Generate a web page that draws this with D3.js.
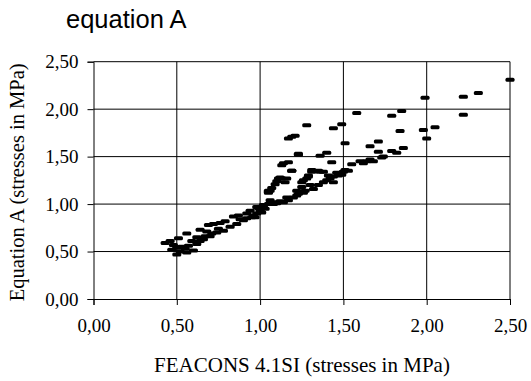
<!DOCTYPE html>
<html>
<head>
<meta charset="utf-8">
<script src="https://cdn.jsdelivr.net/npm/d3@7"></script>
<style>
  html, body { margin: 0; padding: 0; background: #fff; }
  svg { display: block; }
</style>
</head>
<body>
<div id="chart"></div>
<script>
// ---- Data ----
const chartTitle = "equation A";
const xAxisTitle = "FEACONS 4.1SI (stresses in MPa)";
const yAxisTitle = "Equation A (stresses in MPa)";
const xTicks = [0, 0.5, 1.0, 1.5, 2.0, 2.5];
const yTicks = [0, 0.5, 1.0, 1.5, 2.0, 2.5];

// FEACONS 4.1SI stresses (x) and Equation A stresses (y), MPa
const feaconsX = [
  0.43,0.46,0.51,0.56,0.47,0.50,0.50,0.53,0.57,0.59,0.60,0.56,0.48,0.52,0.55,
  0.64,0.69,0.72,0.67,0.71,0.64,0.74,0.78,0.79,0.76,0.62,0.66,0.70,0.62,0.68,0.75,
  0.84,0.87,0.82,0.86,0.90,0.92,0.94,0.95,0.98,1.02,1.05,1.05,0.88,0.92,0.96,1.00,0.99,1.03,0.97,1.01,
  1.12,1.15,1.09,1.06,1.05,1.29,1.25,1.30,1.32,1.23,1.20,1.17,1.14,1.08,1.10,1.11,1.16,1.28,1.19,1.13,1.17,1.23,1.17,1.21,1.28,1.12,1.22,1.27,1.26,
  1.31,1.35,1.38,1.36,1.41,1.44,1.46,1.50,1.44,1.51,1.43,1.36,1.40,1.44,1.49,1.51,1.55,1.58,1.40,1.47,1.53,1.35,1.38,1.42,1.49,
  1.60,1.64,1.68,1.66,1.71,1.71,1.73,1.79,1.82,1.86,1.84,1.79,1.85,1.98,2.05,2.00,1.99,1.74,1.62,1.66,
  2.22,2.31,2.22,2.50,
  1.19,1.23,1.14,1.19,1.10,1.13,1.07,1.05,1.31,1.29,1.26,1.22,1.25,1.16,1.08,1.02,0.98,1.06
];
const equationY = [
  0.59,0.61,0.64,0.69,0.52,0.47,0.54,0.55,0.56,0.61,0.51,0.49,0.57,0.50,0.53,
  0.73,0.78,0.79,0.66,0.69,0.61,0.70,0.72,0.82,0.80,0.58,0.63,0.66,0.65,0.71,0.74,
  0.87,0.88,0.76,0.79,0.83,0.90,0.93,0.86,0.90,0.97,1.00,1.14,0.84,0.85,0.88,0.93,0.96,0.95,0.86,0.91,
  1.28,1.23,1.21,1.14,1.12,1.30,1.23,1.20,1.16,1.11,1.07,1.04,1.02,1.00,1.01,1.27,1.27,1.27,1.35,1.41,1.44,1.52,1.69,1.72,1.83,1.03,1.09,1.14,1.12,
  1.36,1.35,1.34,1.34,1.30,1.23,1.33,1.34,1.29,1.36,1.44,1.51,1.54,1.80,1.84,1.64,1.42,1.96,1.25,1.30,1.35,1.20,1.23,1.27,1.31,
  1.45,1.45,1.45,1.61,1.66,1.55,1.49,1.56,1.54,1.59,1.77,1.93,1.98,1.78,1.81,1.69,2.12,1.50,1.43,1.47,
  2.13,2.17,1.94,2.31,
  1.71,1.53,1.43,1.35,1.24,1.27,1.17,1.13,1.34,1.29,1.25,1.14,1.18,1.07,1.02,0.99,0.97,1.04
];

// ---- Layout ----
const W = 531, H = 381;
const plot = { left: 93.5, right: 510, top: 61.7, bottom: 299 };
const serif = "'Liberation Serif', 'Times New Roman', serif";
const sans = "'Liberation Sans', Arial, sans-serif";
const fmt = v => d3.format(".2f")(v).replace(".", ",");

const svg = d3.select("#chart").append("svg")
  .attr("width", W).attr("height", H);

const x = d3.scaleLinear().domain([0, 2.5]).range([plot.left, plot.right]);
const y = d3.scaleLinear().domain([0, 2.5]).range([plot.bottom, plot.top]);

// gridlines
svg.append("g").selectAll("line.v").data(xTicks.slice(1)).join("line")
  .attr("x1", d => x(d)).attr("x2", d => x(d))
  .attr("y1", plot.top).attr("y2", plot.bottom)
  .attr("stroke", "#000").attr("stroke-width", 1);
svg.append("g").selectAll("line.h").data(yTicks.slice(1)).join("line")
  .attr("x1", plot.left).attr("x2", plot.right)
  .attr("y1", d => y(d)).attr("y2", d => y(d))
  .attr("stroke", "#000").attr("stroke-width", 1);

// axes
const xAxis = svg.append("g")
  .attr("transform", `translate(0,${plot.bottom})`)
  .call(d3.axisBottom(x).tickValues(xTicks).tickFormat(fmt).tickSize(6).tickPadding(14));
const yAxis = svg.append("g")
  .attr("transform", `translate(${plot.left},0)`)
  .call(d3.axisLeft(y).tickValues(yTicks).tickFormat(fmt).tickSize(6).tickPadding(9));
[xAxis, yAxis].forEach(g => {
  g.select(".domain").attr("stroke", "#000").attr("stroke-width", 1);
  g.selectAll(".tick line").attr("stroke", "#000");
  g.selectAll(".tick text").attr("fill", "#000")
    .style("font-family", serif).style("font-size", "19px");
});

// points (short horizontal dash markers)
const pts = feaconsX.map((v, i) => [v, equationY[i]]);
svg.append("g").selectAll("rect").data(pts).join("rect")
  .attr("x", d => x(d[0]) - 4.5)
  .attr("y", d => y(d[1]) - 2)
  .attr("width", 9).attr("height", 4)
  .attr("rx", 1.5)
  .attr("fill", "#000");

// titles
svg.append("text").attr("x", 66).attr("y", 28)
  .style("font-family", sans).style("font-size", "25.5px").attr("fill", "#000")
  .text(chartTitle);
svg.append("text")
  .attr("x", 302).attr("y", 372)
  .attr("text-anchor", "middle")
  .style("font-family", serif).style("font-size", "21px").attr("fill", "#000")
  .text(xAxisTitle);
svg.append("text")
  .attr("transform", `translate(24,${(plot.top + plot.bottom) / 2 + 2}) rotate(-90)`)
  .attr("text-anchor", "middle")
  .style("font-family", serif).style("font-size", "20.5px").attr("fill", "#000")
  .text(yAxisTitle);
</script>
</body>
</html>
